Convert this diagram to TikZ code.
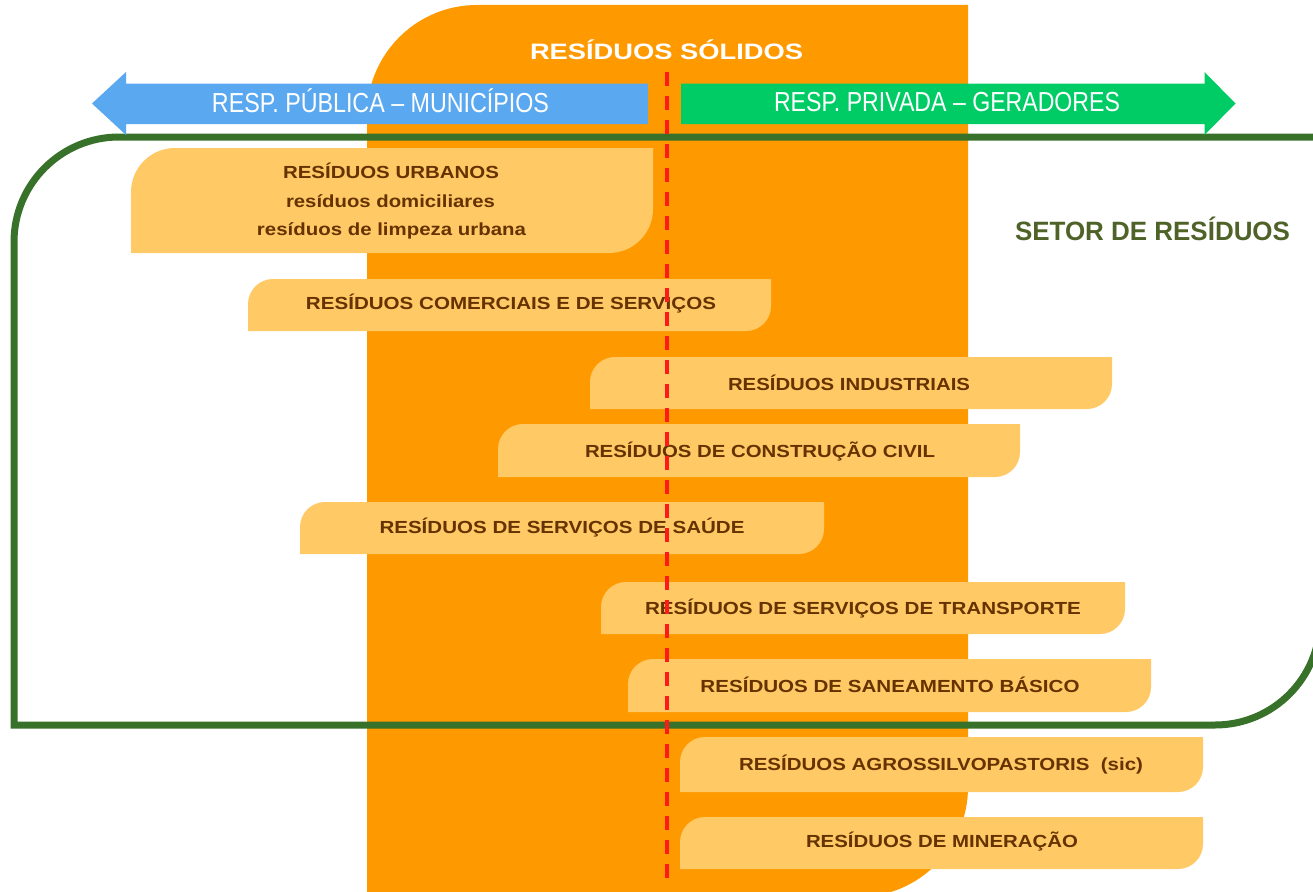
\documentclass[tikz,border=0pt]{standalone}
\usepackage{fontspec}
\setmainfont{Liberation Sans}
\usepackage{graphicx}
\definecolor{orangeM}{HTML}{FF9900}
\definecolor{boxfill}{HTML}{FFC966}
\definecolor{boxtxt}{HTML}{663300}
\definecolor{blueA}{HTML}{5AA8F0}
\definecolor{greenA}{HTML}{00CC66}
\definecolor{frameG}{HTML}{38712A}
\definecolor{setorG}{HTML}{4F6228}
\definecolor{redD}{HTML}{FF1A1A}
\newcommand\fitw[2]{\resizebox{#1pt}{\height}{#2}}
\newcommand\rdshape[6]{\path[#6] (#1,#4) -- (#1,#2+#5) arc[start angle=180,end angle=270,radius=#5] -- (#3,#2) -- (#3,#4-#5) arc[start angle=0,end angle=90,radius=#5] -- cycle;}
\tikzset{
  boxtext/.style={text=boxtxt, font=\fontsize{17.5}{21}\selectfont\bfseries, inner sep=0pt, anchor=base},
  boxshape/.style={fill=boxfill},
  arrowtext/.style={text=white, font=\fontsize{27.5}{30}\selectfont, inner sep=0pt, anchor=base},
  titletext/.style={text=white, font=\fontsize{22.3}{26}\selectfont\bfseries, inner sep=0pt, anchor=base},
  setortext/.style={text=setorG, font=\fontsize{26.5}{30}\selectfont\bfseries, inner sep=0pt, anchor=base},
  reddash/.style={draw=redD, line width=3.3pt, dash pattern=on 14pt off 10pt},
}
\begin{document}
\begin{tikzpicture}[x=1pt,y=-1pt]
\useasboundingbox (0,0) rectangle (1313,891);
\clip (0,0) rectangle (1313,891);
% orange background shape
\rdshape{367}{5}{968}{897}{110}{fill=orangeM}
% green frame
\rdshape{14}{137}{1320}{725}{105}{draw=frameG, line width=7pt}
% arrows
\fill[blueA] (648,83.5) -- (126,83.5) -- (126,72) -- (92,103.5) -- (126,135) -- (126,124) -- (648,124) -- cycle;
\fill[greenA] (681,83.5) -- (1204.5,83.5) -- (1204.5,72) -- (1235.5,103.5) -- (1204.5,135) -- (1204.5,124) -- (681,124) -- cycle;
\node[arrowtext] (pub) at (380.5,112) {\fitw{337}{RESP. PÚBLICA – MUNICÍPIOS}};
\node[arrowtext] (priv) at (947,111) {\fitw{346}{RESP. PRIVADA – GERADORES}};
\node[titletext] (title) at (666.5,59.3) {\fitw{273}{RESÍDUOS SÓLIDOS}};
\node[setortext] (setor) at (1152.5,240) {\fitw{275}{SETOR DE RESÍDUOS}};
% boxes
\rdshape{131}{148}{653}{253}{44}{boxshape}
\rdshape{248}{279}{771}{331}{25}{boxshape}
\rdshape{590}{357}{1112}{409}{25}{boxshape}
\rdshape{498}{424}{1020}{477}{25}{boxshape}
\rdshape{300}{502}{824}{554}{25}{boxshape}
\rdshape{601}{582}{1125}{634}{25}{boxshape}
\rdshape{628}{659}{1151}{712}{25}{boxshape}
\rdshape{680}{737}{1203}{792}{25}{boxshape}
\rdshape{680}{817}{1203}{869}{25}{boxshape}
% box texts
\node[boxtext] (b1a) at (391,178) {\fitw{216}{RESÍDUOS URBANOS}};
\node[boxtext] (b1b) at (390.5,207) {\fitw{209}{resíduos domiciliares}};
\node[boxtext] (b1c) at (391.5,235) {\fitw{269}{resíduos de limpeza urbana}};
\node[boxtext] (b2) at (511,309.5) {\fitw{410}{RESÍDUOS COMERCIAIS E DE SERVIÇOS}};
\node[boxtext] (b3) at (849,390) {\fitw{242}{RESÍDUOS INDUSTRIAIS}};
\node[boxtext] (b4) at (760,457) {\fitw{350}{RESÍDUOS DE CONSTRUÇÃO CIVIL}};
\node[boxtext] (b5) at (562,533.5) {\fitw{365}{RESÍDUOS DE SERVIÇOS DE SAÚDE}};
\node[boxtext] (b6) at (863,614) {\fitw{436}{RESÍDUOS DE SERVIÇOS DE TRANSPORTE}};
\node[boxtext] (b7) at (890,692) {\fitw{379}{RESÍDUOS DE SANEAMENTO BÁSICO}};
\node[boxtext] (b8) at (941,770) {\fitw{404}{RESÍDUOS AGROSSILVOPASTORIS\ \ (sic)}};
\node[boxtext] (b9) at (942,847) {\fitw{272}{RESÍDUOS DE MINERAÇÃO}};
% red dashed divider
\coordinate (dtop) at (667,72);
\coordinate (dbot) at (667,886);
\draw[reddash] (dtop) -- (dbot);
\end{tikzpicture}
\end{document}
